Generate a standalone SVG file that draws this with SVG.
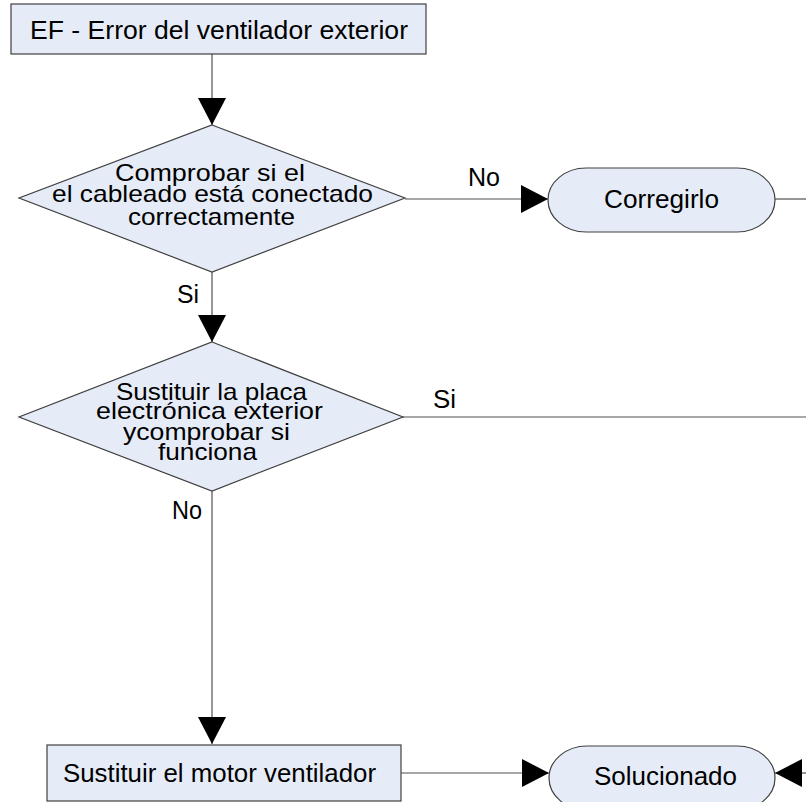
<svg xmlns="http://www.w3.org/2000/svg" width="806" height="802" viewBox="0 0 806 802">
  <style>
    .shape { fill: #E6ECF7; stroke: #404040; stroke-width: 1.2; }
    .conn { fill: none; stroke: #505050; stroke-width: 1.2; }
    text { font-family: "Liberation Sans", Arial, sans-serif; font-size: 25px; fill: #000; }
    .dense { font-size: 24px; }
  </style>
  <defs>
    <marker id="arrow" markerUnits="userSpaceOnUse" viewBox="0 0 27 28" refX="27" refY="14" markerWidth="27" markerHeight="28" orient="auto">
      <path d="M0,0 L27,14 L0,28 Z" fill="#000"/>
    </marker>
  </defs>
  <rect width="806" height="802" fill="#fff"/>

  <g id="connectors">
    <line class="conn" x1="212" y1="54" x2="212" y2="125" marker-end="url(#arrow)"/>
    <line class="conn" x1="405" y1="199" x2="548" y2="199" marker-end="url(#arrow)"/>
    <line class="conn" x1="775" y1="199" x2="806" y2="199"/>
    <line class="conn" x1="212" y1="272" x2="212" y2="342" marker-end="url(#arrow)"/>
    <line class="conn" x1="403" y1="417" x2="806" y2="417"/>
    <line class="conn" x1="212" y1="491" x2="212" y2="744" marker-end="url(#arrow)"/>
    <line class="conn" x1="401" y1="773" x2="549" y2="773" marker-end="url(#arrow)"/>
    <line class="conn" x1="806" y1="773" x2="775" y2="773" marker-end="url(#arrow)"/>
    <text x="468" y="186" textLength="32" lengthAdjust="spacingAndGlyphs">No</text>
    <text x="177" y="303" textLength="22" lengthAdjust="spacingAndGlyphs">Si</text>
    <text x="433" y="408" textLength="23" lengthAdjust="spacingAndGlyphs">Si</text>
    <text x="172" y="519" textLength="30" lengthAdjust="spacingAndGlyphs">No</text>
  </g>

  <g id="start">
    <rect class="shape" x="11" y="4" width="415" height="50"/>
    <text x="30" y="39" textLength="378" lengthAdjust="spacingAndGlyphs">EF - Error del ventilador exterior</text>
  </g>

  <g id="check-wiring">
    <polygon class="shape" points="212,125 405,198 212,272 19,198"/>
    <text class="dense" x="115" y="181" textLength="190" lengthAdjust="spacingAndGlyphs">Comprobar si el</text>
    <text class="dense" x="52" y="202" textLength="321" lengthAdjust="spacingAndGlyphs">el cableado está conectado</text>
    <text class="dense" x="128" y="225" textLength="167" lengthAdjust="spacingAndGlyphs">correctamente</text>
  </g>

  <g id="fix">
    <rect class="shape" x="548" y="168" width="227" height="64" rx="38" ry="32"/>
    <text x="604" y="208" textLength="115" lengthAdjust="spacingAndGlyphs">Corregirlo</text>
  </g>

  <g id="replace-board">
    <polygon class="shape" points="212,342 403,417 212,491 19,417"/>
    <text class="dense" x="116" y="400" textLength="191" lengthAdjust="spacingAndGlyphs">Sustituir la placa</text>
    <text class="dense" x="96" y="419" textLength="227" lengthAdjust="spacingAndGlyphs">electrónica exterior</text>
    <text class="dense" x="123" y="440" textLength="167" lengthAdjust="spacingAndGlyphs">ycomprobar si</text>
    <text class="dense" x="158" y="460" textLength="99" lengthAdjust="spacingAndGlyphs">funciona</text>
  </g>

  <g id="replace-motor">
    <rect class="shape" x="47" y="745" width="354" height="56"/>
    <text x="63" y="782" textLength="313" lengthAdjust="spacingAndGlyphs">Sustituir el motor ventilador</text>
  </g>

  <g id="solved">
    <rect class="shape" x="549" y="746" width="226" height="64" rx="38" ry="32"/>
    <text x="594" y="785" textLength="143" lengthAdjust="spacingAndGlyphs">Solucionado</text>
  </g>
</svg>
